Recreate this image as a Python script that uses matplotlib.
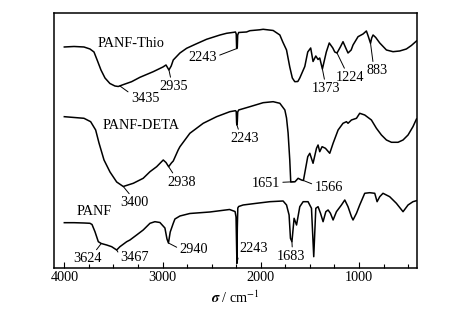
import matplotlib
matplotlib.use("Agg")
import matplotlib.pyplot as plt
import numpy as np
from matplotlib.ticker import MultipleLocator

plt.rcParams["font.family"] = ["Liberation Serif", "DejaVu Serif"]
plt.rcParams["mathtext.fontset"] = "stix"

# FTIR spectra, wavenumber (cm^-1) vs offset transmittance (a.u.)
thio_wn = [4000, 3901, 3800, 3739, 3698, 3662, 3627, 3586, 3536, 3485, 3451, 3396,
           3315, 3230, 3095, 2996, 2965, 2935, 2912, 2891, 2823, 2755, 2671, 2552,
           2415, 2348, 2274, 2258, 2250, 2246, 2243, 2239, 2235, 2225, 2145, 2111,
           2010, 1976, 1874, 1806, 1776, 1738, 1705, 1679, 1654, 1623, 1603, 1552,
           1522, 1492, 1468, 1440, 1417, 1400, 1373, 1333, 1303, 1267, 1247, 1224,
           1190, 1163, 1135, 1112, 1080, 1061, 1010, 959, 925, 907, 883, 871, 857,
           830, 789, 721, 654, 586, 518, 467, 415]
thio_t = [221, 221.5, 221, 219, 216, 207, 198, 190, 184.5, 182, 181.5, 183.5,
          186.3, 190.7, 196.3, 201, 203, 198, 202, 208, 215, 219.7, 223.5, 228.7,
          233, 234.7, 235.7, 236, 234, 220, 219.5, 221, 233, 235.5, 236, 237.3,
          238.2, 238.7, 237.5, 233, 226, 218, 201, 190, 186.3, 186.5, 190, 201.5,
          216, 220, 206.5, 212, 208.5, 210, 199, 216, 225, 220, 216, 215,
          221, 226.3, 220, 215, 218, 223, 231.3, 234, 237, 232, 224.7, 230, 233,
          230.5, 225, 218, 216.3, 217, 219, 222.5, 227]

deta_wn = [4000, 3800, 3732, 3681, 3647, 3596, 3535, 3467, 3400, 3298, 3197, 3128,
           3060, 2993, 2965, 2938, 2910, 2891, 2841, 2823, 2722, 2586, 2450, 2315,
           2258, 2250, 2246, 2243, 2239, 2235, 2225, 2111, 1976, 1874, 1806, 1755,
           1738, 1722, 1705, 1695, 1651, 1620, 1586, 1566, 1522, 1501, 1468, 1433,
           1417, 1400, 1376, 1342, 1298, 1264, 1213, 1163, 1128, 1112, 1077, 1026,
           993, 942, 874, 823, 772, 721, 670, 603, 552, 501, 451, 415]
deta_t = [151.3, 149.7, 146.3, 138, 125, 108, 96, 86, 81.5, 84.7, 89.7, 96.3,
          101.3, 108, 105.5, 101.3, 105, 107, 118, 121.3, 134.7, 144.7, 151.3, 156.3,
          157.3, 156.5, 145, 143, 146, 156, 158, 161.3, 165.3, 166.3, 164.7, 158,
          150, 135, 108, 86, 86.3, 89.7, 88, 87.5, 111.3, 114.7, 104.7, 119.7,
          123, 116.3, 121.3, 119.7, 114.7, 124.7, 138, 144.7, 146.3, 144.7, 148, 149.7,
          154.7, 153, 148, 139.7, 133, 128, 125.7, 125.7, 128, 133, 141.3, 149]

panf_wn = [4000, 3900, 3800, 3739, 3718, 3688, 3654, 3624, 3569, 3518, 3467, 3434,
           3365, 3332, 3264, 3197, 3128, 3078, 3027, 2976, 2955, 2940, 2922, 2891,
           2874, 2823, 2722, 2518, 2318, 2277, 2262, 2252, 2246, 2243, 2239, 2234,
           2225, 2180, 2043, 1908, 1773, 1738, 1712, 1698, 1683, 1661, 1636, 1603,
           1569, 1519, 1484, 1461, 1440, 1417, 1392, 1366, 1338, 1315, 1291, 1264,
           1230, 1179, 1145, 1112, 1077, 1061, 1026, 993, 942, 891, 840, 816,
           789, 756, 688, 620, 552, 501, 451, 415]
panf_t = [45.3, 45.3, 45, 44.7, 43.5, 36.3, 26.3, 24.5, 23, 21.3, 18, 21.3,
          26.3, 28, 33, 38, 44.7, 46.3, 45.5, 40, 29, 25, 36, 44.7,
          49, 52, 54.5, 56, 58.5, 57, 56.5, 51, 20, 4.7, 40, 60,
          61.5, 63, 64.7, 66.3, 67, 63, 53, 29.7, 26.3, 49.7, 43, 61.3,
          66.3, 66.3, 59.7, 11.3, 59.7, 61.3, 54.7, 46.3, 56.3, 58, 54.7, 48,
          56.3, 63, 68, 61.3, 51.3, 48, 54.7, 63, 74.7, 75.3, 74.7, 66.3,
          71.3, 74.7, 71.3, 64.7, 56.3, 63, 66.3, 67.3]

curve_names = ["PANF-Thio", "PANF-DETA", "PANF"]
thio_peaks = ["3435", "2935", "2243", "1373", "1224", "883"]
deta_peaks = ["3400", "2938", "2243", "1651", "1566"]
panf_peaks = ["3624", "3467", "2940", "2243", "1683"]

# label layout: (dx, dy) offset in pixels, ha, va, leader attach point on text
thio_layout = [((11, -6), "left", "top", (0, 0.85)),
               ((5, -10), "center", "top", (0.4, 1)),
               ((-20, -9), "right", "center", (1, 0.6)),
               ((4, -13), "center", "top", (0.45, 1)),
               ((13, -18), "center", "top", (0.35, 1)),
               ((7, -21), "center", "top", (0.3, 1))]
deta_layout = [((11, -10), "center", "top", (0.4, 1)),
               ((13, -9), "center", "top", (0.25, 1)),
               ((8, -7), "center", "top", (0.3, 1)),
               ((-15, -2), "right", "center", (1, 0.6)),
               ((11, -7), "left", "center", (0, 0.7))]
panf_layout = [((-14, -9), "center", "top", (0.75, 1)),
               ((4, -8), "left", "center", (0, 0.6)),
               ((11, -7), "left", "center", (0, 0.6)),
               ((2, 8), "left", "bottom", (0, 0.1)),
               ((-1, -8), "center", "top", (0.55, 1))]

name_pos = [(3657, 224), (3615, 142.5), (3871, 56)]

fig = plt.figure(figsize=(4.70, 3.23), dpi=100)
ax = fig.add_axes([0.1149, 0.1703, 0.7723, 0.7895])

curves = [(thio_wn, thio_t, thio_peaks, thio_layout),
          (deta_wn, deta_t, deta_peaks, deta_layout),
          (panf_wn, panf_t, panf_peaks, panf_layout)]

for (wn, t, peaks, layout), name, pos in zip(curves, curve_names, name_pos):
    ax.plot(wn, t, color="black", lw=1.1)
    ax.text(pos[0], pos[1], name, ha="left", va="center", fontsize=10.3)
    wn_arr = np.array(wn[::-1], dtype=float)
    t_arr = np.array(t[::-1], dtype=float)
    for label, (offset, ha, va, rel) in zip(peaks, layout):
        x0 = float(label)
        y0 = np.interp(x0, wn_arr, t_arr)
        ax.annotate(label, xy=(x0, y0), xytext=offset, textcoords="offset pixels",
                    ha=ha, va=va, fontsize=10.3,
                    arrowprops=dict(arrowstyle="-", lw=0.7, color="black",
                                    shrinkA=0, shrinkB=0, relpos=rel))

ax.set_xlim(4105, 410)
ax.set_ylim(0, 255)
ax.set_xticks([4000, 3000, 2000, 1000])
ax.xaxis.set_minor_locator(MultipleLocator(250))
ax.set_yticks([])
ax.tick_params(axis="x", which="both", direction="in", width=0.8, pad=2,
               labelsize=10.3)
ax.tick_params(axis="x", which="major", length=4.5)
ax.tick_params(axis="x", which="minor", length=3)
for spine in ax.spines.values():
    spine.set_linewidth(1.1)

ax.set_xlabel(r"$\mathbfit{\sigma}$ / cm$^{-1}$", fontsize=10.3, labelpad=4)

fig.savefig("out.png", dpi=100)
